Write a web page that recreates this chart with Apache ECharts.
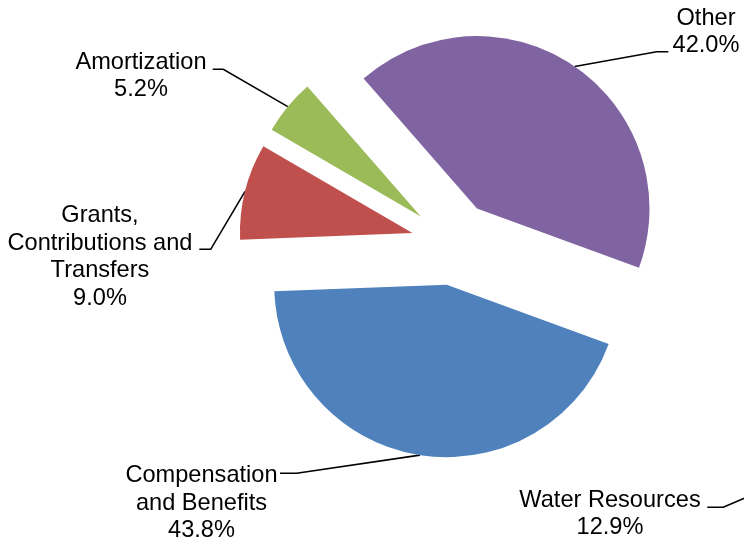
<!DOCTYPE html>
<html><head><meta charset="utf-8">
<script src="https://cdn.jsdelivr.net/npm/echarts@6/dist/echarts.min.js"></script>
<style>html,body{margin:0;padding:0;background:#fff}#c{width:744px;height:547px}</style>
</head><body><div id="c"></div>
<script>
// ---- data ----
const categories = ['Compensation and Benefits', 'Grants, Contributions and Transfers', 'Amortization', 'Other', 'Water Resources'];
const sliceValues = [43.8, 9.0, 5.2, 42.0, 0];
const labelPercents = [43.8, 9.0, 5.2, 42.0, 12.9];
const labelLines = ['Compensation\nand Benefits', 'Grants,\nContributions and\nTransfers', 'Amortization', 'Other', 'Water Resources'];

// ---- style / layout ----
const colors = ['#4F81BD', '#C0504D', '#9BBB59', '#8064A2', '#4BACC6'];
const PIE_CENTER = [453.2, 243.2];
const RADIUS = 172.5;
const FIRST_ANGLE = 110.1; // degrees clockwise from 12 o'clock
const explode = [42, 42, 42, 42, 335];
const labelPos = [[201.5, 503], [100, 257], [141, 76], [706, 32], [610, 514]];
const leaderElbows = [
  [[296.7, 473.3], [280, 473.3]],
  [[210.7, 249.3], [199.3, 249.3]],
  [[223.3, 69.3], [212.7, 69.3]],
  [[656.7, 51.7], [668.3, 51.7]],
  [[723.3, 507.3], [707.3, 507.3]]
];

const total = sliceValues.reduce((a, b) => a + b, 0);
let acc = 0;
const mids = sliceValues.map(v => { const m = FIRST_ANGLE + (acc + v / 2) / total * 360; acc += v; return m; });
const rad = d => d * Math.PI / 180;

const series = categories.map((cat, i) => {
  const m = rad(mids[i]);
  const center = [PIE_CENTER[0] + explode[i] * Math.sin(m), PIE_CENTER[1] - explode[i] * Math.cos(m)];
  const arcPt = [center[0] + RADIUS * Math.sin(m), center[1] - RADIUS * Math.cos(m)];
  return {
    type: 'pie',
    radius: RADIUS,
    center: center,
    startAngle: (90 - FIRST_ANGLE + 360) % 360,
    clockwise: true,
    avoidLabelOverlap: false,
    silent: true,
    animation: false,
    emphasis: { disabled: true },
    itemStyle: { borderWidth: 0 },
    label: {
      show: true,
      position: 'outside',
      formatter: p => labelLines[p.dataIndex] + '\n' + labelPercents[p.dataIndex].toFixed(1) + '%',
      color: '#000',
      fontFamily: 'Liberation Sans, Arial, sans-serif',
      fontSize: 23.6,
      lineHeight: 27.6,
      align: 'center',
      width: 300
    },
    labelLine: { show: true, smooth: false, lineStyle: { color: '#000', width: 1.6 } },
    labelLayout: function (params) {
      if (params.dataIndex !== i) return;
      const p0 = arcPt;
      return {
        x: labelPos[i][0], y: labelPos[i][1],
        align: 'center', verticalAlign: 'middle',
        labelLinePoints: [p0, leaderElbows[i][0], leaderElbows[i][1]]
      };
    },
    data: categories.map((name, j) => ({
      name: name,
      value: sliceValues[j],
      itemStyle: { color: j === i ? colors[j] : 'rgba(0,0,0,0)' },
      label: { show: j === i },
      labelLine: { show: j === i }
    }))
  };
});

const chart = echarts.init(document.getElementById('c'), null, { renderer: 'canvas' });
chart.setOption({ backgroundColor: '#fff', animation: false, series: series });
</script>
</body></html>
